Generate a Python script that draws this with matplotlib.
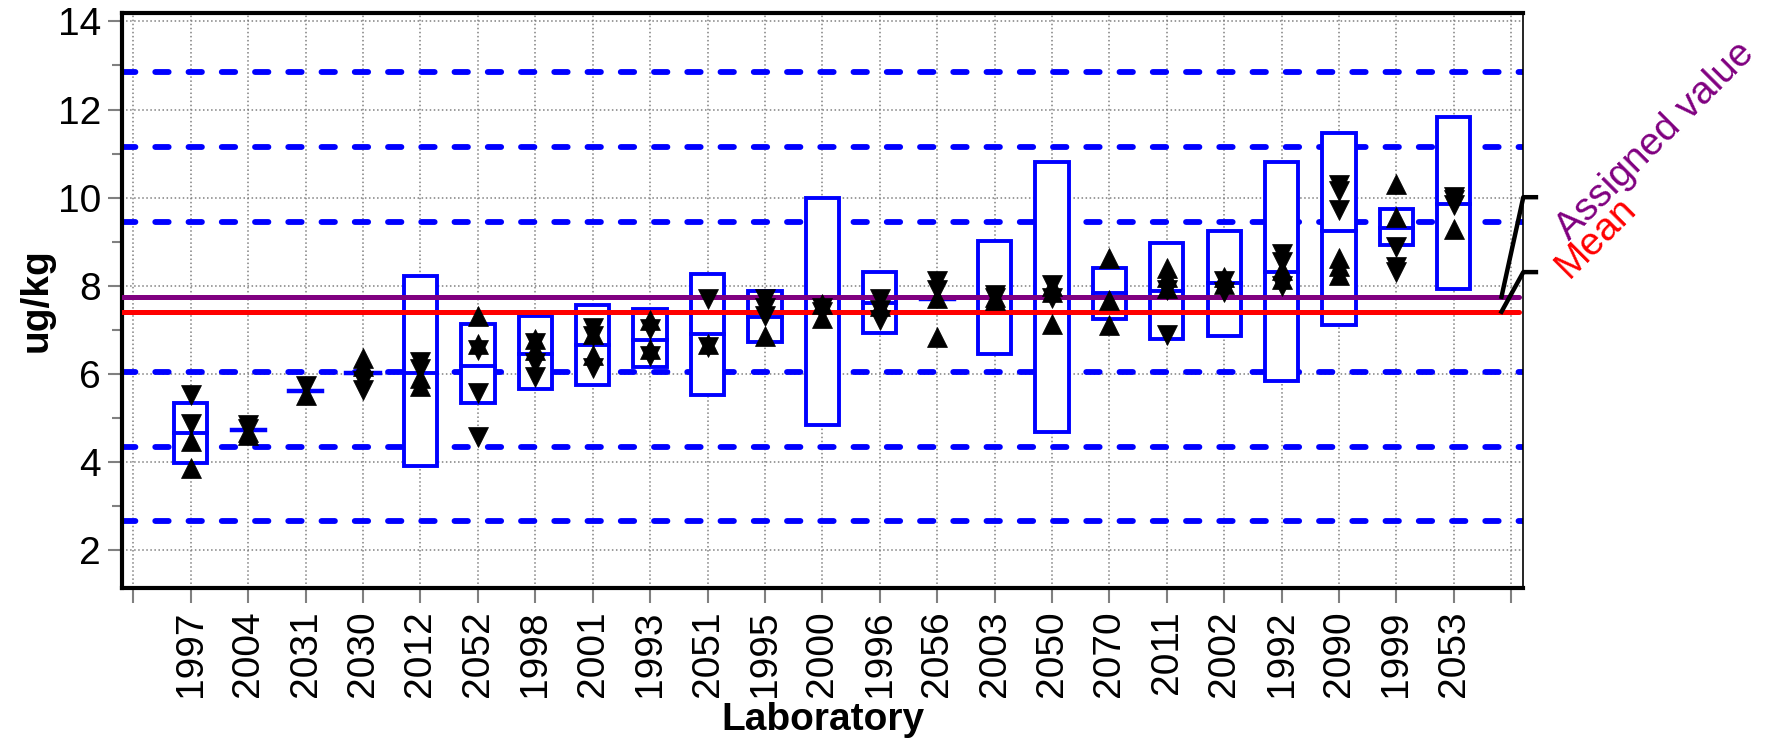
import numpy as np
import matplotlib
matplotlib.use("Agg")
import matplotlib.pyplot as plt
from matplotlib.patches import Rectangle

# Laboratories, sorted by their mean result
labs = ["1997", "2004", "2031", "2030", "2012", "2052", "1998", "2001", "1993",
        "2051", "1995", "2000", "1996", "2056", "2003", "2050", "2070", "2011",
        "2002", "1992", "2090", "1999", "2053"]

lab_mean = [4.65, 4.72, 5.62, 6.02, 6.03, 6.19, 6.45, 6.66, 6.78, 6.90, 7.30, 7.41,
            7.60, 7.70, 7.74, 7.74, 7.84, 7.88, 8.07, 8.31, 9.24, 9.32, 9.86]
box_low = [3.97, 4.72, 5.62, 6.02, 3.91, 5.33, 5.66, 5.75, 6.15, 5.51, 6.73, 4.85,
           6.92, 7.70, 6.45, 4.67, 7.25, 6.79, 6.87, 5.84, 7.12, 8.92, 7.92]
box_high = [5.33, 4.72, 5.62, 6.02, 8.22, 7.13, 7.31, 7.56, 7.47, 8.26, 7.89, 9.99,
            8.31, 7.70, 9.02, 10.80, 8.40, 8.96, 9.25, 10.80, 11.47, 9.74, 11.84]

# individual replicate results (two series: up / down triangles)
rep_up = [
    [4.48, 3.87], [4.62, 4.68], [5.52], [6.36, 6.18], [5.90, 5.72],
    [7.31, 6.68], [6.80, 6.55], [6.90, 6.42], [7.22, 6.57], [6.68],
    [6.85], [7.59, 7.26], [7.55], [7.73, 6.83], [7.67, 7.75],
    [8.00, 7.85, 7.13], [8.63, 7.68, 7.12], [8.40, 8.20, 7.95], [8.20, 8.05],
    [8.35, 8.15], [8.63, 8.45, 8.24], [10.31, 9.57], [9.29],
]
rep_down = [
    [5.53, 4.87], [4.83, 4.75], [5.72], [5.83, 5.64], [6.28, 6.12],
    [6.55, 5.56, 4.57], [6.70, 6.25, 5.92], [7.03, 6.85, 6.13], [7.02, 6.40],
    [7.70, 6.62], [7.70, 7.50, 7.32], [7.50, 7.40], [7.70, 7.45, 7.22],
    [8.11, 7.90], [7.80, 7.72], [8.02, 7.72], [], [7.90, 6.89], [8.10, 7.85],
    [8.72, 8.55, 8.00], [10.29, 10.15, 9.71], [8.87, 8.42, 8.32],
    [10.02, 9.95, 9.83],
]

assigned_value = 7.75
mean_value = 7.41
z_levels = [2.65, 4.35, 6.05, 9.45, 11.15, 12.85]

plt.rcParams["font.family"] = ["Liberation Sans", "DejaVu Sans"]

fig = plt.figure(figsize=(17.75, 7.4), dpi=100)
ax = fig.add_axes([0.0687, 0.2054, 0.7895, 0.7776])

x = np.arange(1, len(labs) + 1)
box_w = 0.58

# z-score limits
for lvl in z_levels:
    ax.axhline(lvl, color="#0000ff", lw=4.2, dashes=(2.3, 3.4),
               dash_capstyle="round", zorder=2)

# uncertainty boxes with mean line
for xi, lo, hi, m in zip(x, box_low, box_high, lab_mean):
    if hi > lo:
        ax.add_patch(Rectangle((xi - box_w / 2, lo), box_w, hi - lo,
                               facecolor="white", edgecolor="#0000ff",
                               lw=2.8, zorder=3))
        ax.plot([xi - box_w / 2, xi + box_w / 2], [m, m], color="#0000ff",
                lw=2.8, zorder=3.5)
    else:
        ax.plot([xi - box_w / 2, xi + box_w / 2], [m, m], color="#0000ff",
                lw=3.2, zorder=3.5)

# assigned value and mean
ax.plot([-0.2, 24.13], [assigned_value, assigned_value], color="#800080",
        lw=3.6, solid_capstyle="round", zorder=4)
ax.plot([-0.2, 24.13], [mean_value, mean_value], color="#ff0000",
        lw=3.6, solid_capstyle="round", zorder=4)

# replicates
for xi, ups, downs in zip(x, rep_up, rep_down):
    if ups:
        ax.plot([xi] * len(ups), ups, linestyle="none", marker="^", ms=14,
                color="black", mew=0.5, zorder=6)
    if downs:
        ax.plot([xi] * len(downs), downs, linestyle="none", marker="v", ms=14,
                color="black", mew=0.5, zorder=6)

# leader lines and labels on the right
ax.plot([23.83, 24.21, 24.43], [assigned_value, 10.01, 10.01], color="black",
        lw=3.2, clip_on=False, solid_joinstyle="round", zorder=5)
ax.plot([23.83, 24.21, 24.43], [mean_value, 8.31, 8.31], color="black",
        lw=3.2, clip_on=False, solid_joinstyle="round", zorder=5)
ax.text(25.02, 9.0, "Assigned value", rotation=45, rotation_mode="anchor",
        ha="left", va="baseline", color="#800080", fontsize=28, clip_on=False)
ax.text(25.01, 8.15, "Mean", rotation=45, rotation_mode="anchor",
        ha="left", va="baseline", color="#ff0000", fontsize=28, clip_on=False)

# axes, ticks, grid
ax.set_xlim(-0.2, 24.21)
ax.set_ylim(1.14, 14.2)
ax.set_xticks(range(0, len(labs) + 2))
ax.set_xticklabels([""] + labs + [""], rotation=90)
ax.set_yticks(range(2, 15, 2))
ax.set_yticks(range(3, 14, 2), minor=True)
ax.tick_params(axis="x", labelsize=28, length=11, width=1.5, color="gray", pad=5)
ax.tick_params(axis="y", which="major", labelsize=28, length=10, width=1.5,
               color="gray", pad=5)
ax.tick_params(axis="y", which="minor", length=7, width=1.5, color="gray")
ax.set_axisbelow(True)
ax.grid(True, which="major", color="gray", linestyle=":", linewidth=1.1)

for side in ("left", "bottom", "top"):
    ax.spines[side].set_linewidth(3)
ax.spines["right"].set_linewidth(1.2)

ax.set_xlabel("Laboratory", fontsize=28, fontweight="bold", va="baseline")
ax.xaxis.set_label_coords(0.5, -0.2468)
ax.set_ylabel("ug/kg", fontsize=28, fontweight="bold", va="center")
ax.yaxis.set_label_coords(-0.061, 0.5)

fig.savefig("out.png", dpi=100)
